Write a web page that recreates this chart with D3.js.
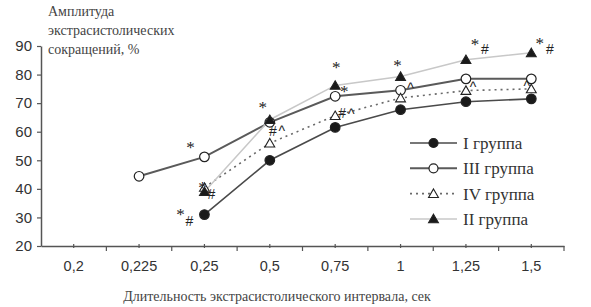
<!DOCTYPE html>
<html>
<head>
<meta charset="utf-8">
<script src="https://cdn.jsdelivr.net/npm/d3@7"></script>
<style>
  html, body { margin: 0; padding: 0; background: #fff; }
  svg { display: block; }
</style>
</head>
<body>
<div id="chart"></div>
<script>
// Categories on the x axis (interval, sec)
const categories = ["0,2", "0,225", "0,25", "0,5", "0,75", "1", "1,25", "1,5"];
const yTicks = [20, 30, 40, 50, 60, 70, 80, 90];

// Series values (amplitude, %), null where the group has no point
const group1 = [null, null, 31, 50, 61.5, 67.7, 70.5, 71.5];
const group3 = [null, 44.4, 51.2, 63.3, 72.4, 74.5, 78.5, 78.5];
const group4 = [null, null, 40.5, 56, 65.6, 71.8, 74.4, 75];
const group2 = [null, null, 39, 64.2, 76.2, 79.3, 85.2, 87.6];

// significance marks: category, level on the value axis, text, shift in px
const marks = [
  { cat: "0,25", v: 55.4, t: "*", dx: -14 },
  { cat: "0,25", v: 41.4, t: "*", dx: -2 },
  { cat: "0,25", v: 38.2, t: "#", dx: 7 },
  { cat: "0,25", v: 31.9, t: "*", dx: -24 },
  { cat: "0,25", v: 28.8, t: "#", dx: -15 },
  { cat: "0,5", v: 69.4, t: "*", dx: -7 },
  { cat: "0,5", v: 60.3, t: "#", dx: 3 },
  { cat: "0,5", v: 61.6, t: "^", dx: 12 },
  { cat: "0,75", v: 83.4, t: "*", dx: 1 },
  { cat: "0,75", v: 75, t: "*", dx: 9 },
  { cat: "0,75", v: 66.6, t: "#", dx: 7 },
  { cat: "0,75", v: 67.6, t: "^", dx: 16 },
  { cat: "1", v: 84, t: "*", dx: -3 },
  { cat: "1", v: 76.7, t: "^", dx: 10 },
  { cat: "1,25", v: 91.4, t: "*", dx: 9 },
  { cat: "1,25", v: 89, t: "#", dx: 19 },
  { cat: "1,25", v: 77, t: "^", dx: 7 },
  { cat: "1,5", v: 91.8, t: "*", dx: 8.5 },
  { cat: "1,5", v: 89, t: "#", dx: 18.5 },
  { cat: "1,5", v: 77.4, t: "^", dx: -4.5 }
];

const series = [
  { name: "I группа", values: group1, marker: "circle", fill: "#1a1a1a", line: "#4a4a4a", width: 1.6, dash: null },
  { name: "III группа", values: group3, marker: "circle", fill: "#fff", line: "#5a5a5a", width: 2, dash: null },
  { name: "IV группа", values: group4, marker: "triangle", fill: "#fff", line: "#6a6a6a", width: 1.6, dash: "2,4" },
  { name: "II группа", values: group2, marker: "triangle", fill: "#1a1a1a", line: "#c8c8c8", width: 1.5, dash: null }
];

const W = 591, H = 307;
const sans = "'Liberation Sans', Arial, sans-serif";
const serif = "'Liberation Serif', 'Times New Roman', serif";

const svg = d3.select("#chart").append("svg")
  .attr("width", W).attr("height", H);

const x = d3.scaleBand().domain(categories).range([41, 564]).padding(0);
const y = d3.scaleLinear().domain([20, 90]).range([246, 46]);
const cx = c => x(c) + x.bandwidth() / 2;

// Y axis
svg.append("g").attr("transform", "translate(41,0)")
  .call(d3.axisLeft(y).tickValues(yTicks).tickSize(4).tickPadding(5).tickSizeOuter(0))
  .call(g => g.select(".domain").attr("stroke", "#555").attr("stroke-width", 1.5))
  .call(g => g.selectAll(".tick line").attr("stroke", "#555").attr("stroke-width", 1.2))
  .call(g => g.selectAll("text").attr("font-family", sans).attr("font-size", 15).attr("fill", "#333"));

// X axis: labels at band centres, ticks at boundaries and centres
svg.append("g").attr("transform", "translate(0,246)")
  .call(d3.axisBottom(x).tickSize(2).tickPadding(13).tickSizeOuter(0))
  .call(g => g.select(".domain").attr("stroke", "#555").attr("stroke-width", 1.5))
  .call(g => g.selectAll(".tick line").attr("stroke", "#555").attr("stroke-width", 1.2).attr("y1", -2))
  .call(g => g.selectAll("text").attr("font-family", sans).attr("font-size", 14.5).attr("fill", "#333"));

svg.append("g").selectAll("line")
  .data(categories.slice(1).concat(["end"]))
  .join("line")
  .attr("x1", (d, i) => x(categories[0]) + x.step() * (i + 1))
  .attr("x2", (d, i) => x(categories[0]) + x.step() * (i + 1))
  .attr("y1", 246).attr("y2", 251)
  .attr("stroke", "#555").attr("stroke-width", 1.2);

// Axis titles
const yTitle = svg.append("text").attr("font-family", serif).attr("font-size", 14).attr("fill", "#444");
["Амплитуда", "экстрасистолических", "сокращений, %"].forEach((s, i) => {
  yTitle.append("tspan").attr("x", 48).attr("y", 16 + i * 19).text(s);
});

svg.append("text")
  .attr("x", 277).attr("y", 301)
  .attr("text-anchor", "middle")
  .attr("font-family", serif).attr("font-size", 14).attr("fill", "#444")
  .text("Длительность экстрасистолического интервала, сек");

// Lines
const line = d3.line()
  .defined(d => d.v != null)
  .x(d => cx(d.c))
  .y(d => y(d.v));

const triangle = d3.symbol().type(d3.symbolTriangle).size(42);

series.forEach(s => {
  const pts = categories.map((c, i) => ({ c, v: s.values[i] }));
  svg.append("path")
    .datum(pts)
    .attr("d", line)
    .attr("fill", "none")
    .attr("stroke", s.line)
    .attr("stroke-width", s.width)
    .attr("stroke-dasharray", s.dash);
});

// Markers drawn after all lines
series.forEach(s => {
  const pts = categories.map((c, i) => ({ c, v: s.values[i] })).filter(d => d.v != null);
  const g = svg.append("g");
  if (s.marker === "circle") {
    g.selectAll("circle").data(pts).join("circle")
      .attr("cx", d => cx(d.c)).attr("cy", d => y(d.v)).attr("r", 4.8)
      .attr("fill", s.fill).attr("stroke", "#222").attr("stroke-width", 1.2);
  } else {
    g.selectAll("path").data(pts).join("path")
      .attr("d", triangle)
      .attr("transform", d => `translate(${cx(d.c)},${y(d.v) + 1})`)
      .attr("fill", s.fill).attr("stroke", "#222").attr("stroke-width", 1.1);
  }
});

// Significance marks
const baseShift = { "*": 8, "#": 5, "^": 9 };
svg.append("g").selectAll("text").data(marks).join("text")
  .attr("x", d => cx(d.cat) + d.dx)
  .attr("y", d => y(d.v) + baseShift[d.t])
  .attr("text-anchor", "middle")
  .attr("font-family", d => d.t === "*" ? serif : sans)
  .attr("font-size", d => d.t === "*" ? 17 : 14)
  .attr("fill", "#222")
  .text(d => d.t);

// Legend
const legend = svg.append("g");
series.forEach((s, i) => {
  const ly = 143 + i * 25.3;
  const g = legend.append("g").attr("transform", `translate(410,${ly})`);
  g.append("line").attr("x1", 0).attr("x2", 47).attr("y1", 0).attr("y2", 0)
    .attr("stroke", s.line).attr("stroke-width", s.width).attr("stroke-dasharray", s.dash);
  if (s.marker === "circle") {
    g.append("circle").attr("cx", 23.5).attr("cy", 0).attr("r", 4.5)
      .attr("fill", s.fill).attr("stroke", "#222").attr("stroke-width", 1.2);
  } else {
    g.append("path").attr("d", triangle).attr("transform", "translate(23.5,1)")
      .attr("fill", s.fill).attr("stroke", "#222").attr("stroke-width", 1.1);
  }
  g.append("text").attr("x", 53).attr("y", 6)
    .attr("font-family", serif).attr("font-size", 17).attr("fill", "#333")
    .text(s.name);
});
</script>
</body>
</html>
